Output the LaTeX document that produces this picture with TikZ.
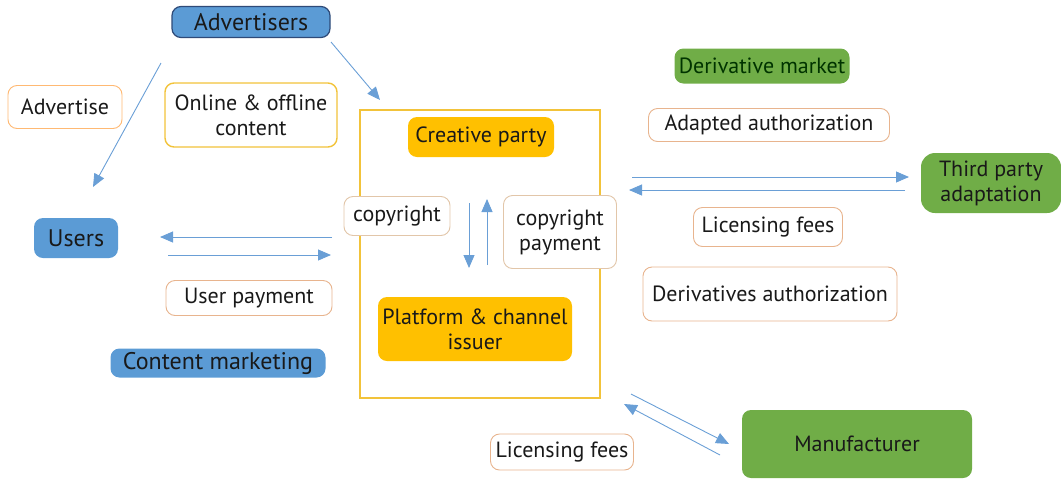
\documentclass[tikz,border=0pt]{standalone}
\usepackage{fontspec}
\setmainfont{PT Sans}
\usepackage{xcolor}
\usetikzlibrary{arrows.meta,calc}

\definecolor{blueish}{HTML}{5B9BD5}
\definecolor{navy}{HTML}{2E4A78}
\definecolor{leaf}{HTML}{70AD47}
\definecolor{amber}{HTML}{FFC000}
\definecolor{gold}{HTML}{F2C33A}
\definecolor{tagline}{HTML}{E8B48E}
\definecolor{flowblue}{HTML}{6A9FD6}

\begin{document}
\begin{tikzpicture}[x=1pt,y=-1pt,
  every node/.style={font=\fontsize{22}{25}\selectfont, text=black!90},
  bigtext/.style={font=\fontsize{24}{27}\selectfont},
  fillbox/.style={rounded corners=9pt, inner sep=0pt, align=center},
  tagbox/.style={draw=tagline, fill=white, line width=0.9pt, rounded corners=9pt, inner sep=0pt, align=center},
  flow/.style={draw=flowblue, line width=0.9pt, -{Triangle[length=13pt,width=11pt]}}]
\useasboundingbox (0,0) rectangle (1061,480);

% left side
\node[fillbox, bigtext, fill=blueish, draw=navy, line width=1.2pt, minimum width=158pt, minimum height=31pt] (advertisers) at (251,22) {Advertisers};
\node[tagbox, draw=orange!55, minimum width=114pt, minimum height=43pt] (advertise) at (65,107) {Advertise};
\node[tagbox, draw=gold, line width=1.4pt, minimum width=172pt, minimum height=64pt] (online) at (251,115) {Online \& offline\\content};
\node[fillbox, bigtext, fill=blueish, minimum width=84pt, minimum height=40pt] (users) at (76,238) {Users};
\node[tagbox, minimum width=166pt, minimum height=35pt] (userpay) at (249,298) {User payment};
\node[fillbox, bigtext, fill=blueish, minimum width=215pt, minimum height=29pt] (marketing) at (218,363) {Content marketing};

% centre frame
\node[draw=gold, line width=1.8pt, minimum width=240pt, minimum height=288pt] (frame) at (480,254) {};
\node[fillbox, fill=amber, minimum width=146pt, minimum height=40pt] (creative) at (481,137) {Creative party};
\node[tagbox, draw=brown!45, minimum width=106pt, minimum height=39pt] (copyright) at (397,216) {copyright};
\node[tagbox, draw=brown!45, minimum width=113pt, minimum height=73pt] (copypay) at (560,232) {copyright\\payment};
\node[fillbox, fill=amber, minimum width=194pt, minimum height=64pt] (platform) at (475,329) {Platform \& channel\\issuer};

% right side
\node[fillbox, fill=leaf, minimum width=175pt, minimum height=35pt, text=black!80!green] (derimarket) at (762,66) {Derivative market};
\node[tagbox, minimum width=241pt, minimum height=33pt] (adapted) at (769,125) {Adapted authorization};
\node[fillbox, fill=leaf, rounded corners=14pt, minimum width=140pt, minimum height=60pt] (thirdparty) at (991,183) {Third party\\adaptation};
\node[tagbox, minimum width=149pt, minimum height=39pt] (feesright) at (768,227) {Licensing fees};
\node[tagbox, minimum width=254pt, minimum height=54pt] (deriauth) at (770,294) {Derivatives authorization};
\node[fillbox, fill=leaf, minimum width=230pt, minimum height=68pt] (manufacturer) at (857,444) {Manufacturer};
\node[tagbox, minimum width=143pt, minimum height=36pt] (feesbottom) at (562,452) {Licensing fees};

% arrow ends
\coordinate (adA) at (161,63);  \coordinate (adB) at (93,187);
\coordinate (adC) at (331,42);  \coordinate (adD) at (380,100);
\coordinate (usA) at (332,237); \coordinate (usB) at (160,237);
\coordinate (usC) at (168,255); \coordinate (usD) at (331,255);
\coordinate (cpA) at (469,203); \coordinate (cpB) at (469,268);
\coordinate (cpC) at (487,265); \coordinate (cpD) at (487,199);
\coordinate (tpA) at (632,177); \coordinate (tpB) at (909,177);
\coordinate (tpC) at (905,190); \coordinate (tpD) at (629,190);
\coordinate (mfA) at (631,394); \coordinate (mfB) at (729,444);
\coordinate (mfC) at (720,455); \coordinate (mfD) at (624,404);

\foreach \s/\t in {adA/adB, adC/adD, usA/usB, usC/usD, cpA/cpB, cpC/cpD, tpA/tpB, tpC/tpD, mfA/mfB, mfC/mfD}
  \draw[flow] (\s) -- (\t);

\end{tikzpicture}
\end{document}
